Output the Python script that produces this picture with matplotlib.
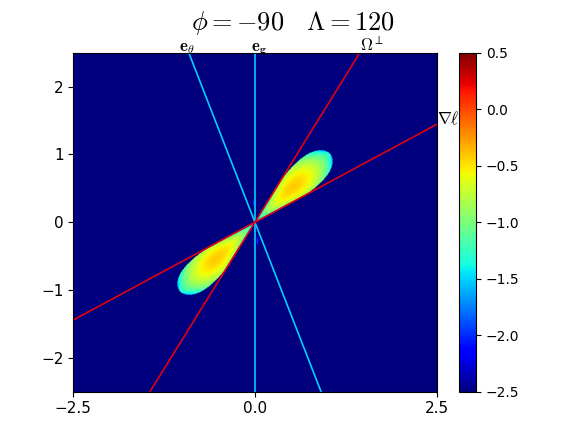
import numpy as np
import matplotlib.pyplot as plt

plt.rcParams['mathtext.fontset'] = 'cm'

# direction lines through the origin (degrees) and their labels
line_angles = [110, 90, 60, 30]
line_colors = ['#00d0ff', '#00d0ff', '#e00010', '#e00010']
line_labels = [r'$\mathbf{e_\theta}$', r'$\mathbf{e_g}$', r'$\Omega^\perp$', r'$\nabla\ell$']
label_pos = [(-1.05, 2.53), (-0.05, 2.53), (1.44, 2.53), (2.5, 1.44)]

# lobe parameters (along the 45 degree axis)
lobe_len = 1.45
lobe_half_angle = 15
lobe_fat = 1.15
peak_at = 0.75
peak_val = -0.42
# small faint spots next to e_g: (x, y, sx, sy)
spots = [(-0.02, 0.29, 0.02, 0.07), (0.035, -0.27, 0.02, 0.1)]

n = 600
xs = np.linspace(-2.5, 2.5, n)
X, Y = np.meshgrid(xs, xs)
U = np.abs(X + Y) / np.sqrt(2)
V = np.abs(Y - X) / np.sqrt(2)

wedge = np.tan(np.radians(lobe_half_angle)) * U
h = np.minimum(wedge, lobe_fat * wedge * np.sqrt(np.clip(1 - (U / lobe_len) ** 2, 0, None)))
inside = (U < lobe_len) & (V < h)
s = np.where(h > 0, V / np.maximum(h, 1e-9), 1)
Z = np.full_like(X, -3.0)
zin = peak_val - 0.95 * ((U - peak_at) / 0.7) ** 2 - 0.4 * s ** 2
Z[inside] = zin[inside]
for cx, cy, sx, sy in spots:
    g = -3 + 1.1 * np.exp(-((X - cx) / sx) ** 2 - ((Y - cy) / sy) ** 2)
    Z = np.maximum(Z, g)

fig = plt.figure(figsize=(5.86, 4.4), dpi=100)
ax = plt.gca()
im = ax.imshow(Z, extent=[-2.5, 2.5, -2.5, 2.5], origin='lower', cmap='jet',
               vmin=-2.5, vmax=0.5, aspect='auto')
plt.colorbar(im)

t = np.array([-5, 5])
for ang, col, lab, (lx, ly) in zip(line_angles, line_colors, line_labels, label_pos):
    a = np.radians(ang)
    ax.plot(t * np.cos(a), t * np.sin(a), color=col, lw=1.2)
    ax.text(lx, ly, lab, fontsize=12, clip_on=False)

ax.set_xlim(-2.5, 2.5)
ax.set_ylim(-2.5, 2.5)
ax.set_xticks([-2.5, 0.0, 2.5])
ax.set_yticks([-2, -1, 0, 1, 2])
ax.tick_params(labelsize=11)
fig.suptitle(r'$\phi = -90 \quad \Lambda = 120$', fontsize=19)
plt.savefig('out.png')
